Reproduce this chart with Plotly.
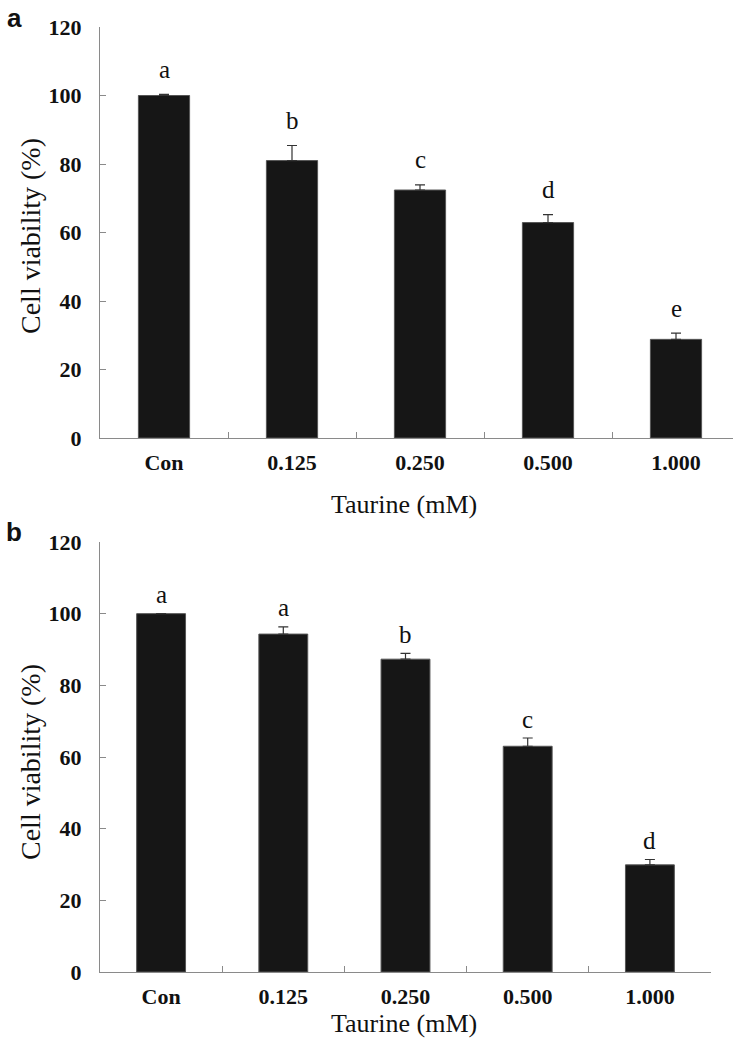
import plotly.graph_objects as go

categories = ["Con", "0.125", "0.250", "0.500", "1.000"]

# Panel a
viability_a = [100.0, 81.0, 72.4, 62.9, 28.8]
error_a = [0.3, 4.4, 1.5, 2.3, 1.8]
letters_a = ["a", "b", "c", "d", "e"]

# Panel b
viability_b = [100.0, 94.3, 87.3, 63.0, 29.9]
error_b = [0.0, 2.0, 1.6, 2.3, 1.5]
letters_b = ["a", "a", "b", "c", "d"]

x_title = "Taurine (mM)"
y_title = "Cell viability (%)"
y_ticks = [0, 20, 40, 60, 80, 100, 120]

W, H = 733, 1044
SERIF = "Liberation Serif, Times New Roman, serif"
SANS = "Liberation Sans, Arial, sans-serif"
BAR = "#161616"
AX = "#8a8a8a"

fig = go.Figure()

for vals, errs, xa, ya in [(viability_a, error_a, "x", "y"), (viability_b, error_b, "x2", "y2")]:
    fig.add_trace(go.Bar(
        x=categories, y=vals, xaxis=xa, yaxis=ya, width=0.4,
        marker=dict(color=BAR, line=dict(color="#555555", width=1)),
        error_y=dict(type="data", symmetric=False, array=errs,
                     arrayminus=[0] * len(errs), color="#333333",
                     thickness=1.2, width=5),
        showlegend=False, hoverinfo="skip",
    ))

def fy(px):
    return 1 - px / H

def fx(px):
    return px / W

top_range_end = -0.5 + (W - 100) / 128.0

xcommon = dict(
    type="category", showline=True, linecolor=AX, linewidth=1.2,
    ticks="inside", tickson="boundaries", ticklen=6, tickcolor=AX,
    tickfont=dict(family=SERIF, size=22, color="#111111", weight="bold"),
    ticklabelstandoff=4, showgrid=False, zeroline=False, automargin=False,
    categoryorder="array", categoryarray=categories,
)
ycommon = dict(
    range=[0, 120], tickvals=y_ticks, showline=True, linecolor=AX, linewidth=1.2,
    ticks="inside", ticklen=6, tickcolor=AX,
    tickfont=dict(family=SERIF, size=22, color="#111111", weight="bold"),
    ticklabelstandoff=13, showgrid=False, zeroline=False, automargin=False,
)

fig.update_layout(
    width=W, height=H, margin=dict(l=0, r=0, t=0, b=0, autoexpand=False),
    paper_bgcolor="white", plot_bgcolor="white",
    bargap=0.6,
    xaxis=dict(xcommon, domain=[fx(100), 1.0], range=[-0.5, top_range_end], anchor="y"),
    yaxis=dict(ycommon, domain=[fy(438), fy(27)], anchor="x"),
    xaxis2=dict(xcommon, domain=[fx(100), fx(711)], range=[-0.5, 4.5], anchor="y2"),
    yaxis2=dict(ycommon, domain=[fy(972), fy(542)], anchor="x2"),
)

annotations = []
for vals, errs, letters, xr, yr, shift in [
    (viability_a, error_a, letters_a, "x", "y", 25),
    (viability_b, error_b, letters_b, "x2", "y2", 19),
]:
    for i, (v, e, l) in enumerate(zip(vals, errs, letters)):
        annotations.append(dict(
            x=i, y=v + e, xref=xr, yref=yr, text=l, showarrow=False,
            yanchor="middle", yshift=shift,
            font=dict(family=SERIF, size=25, color="#111111"),
        ))

annotations += [
    dict(x=fx(404), y=fy(504), xref="paper", yref="paper", text=x_title, showarrow=False,
         xanchor="center", yanchor="middle", font=dict(family=SERIF, size=26, color="#111111")),
    dict(x=fx(404), y=fy(1023), xref="paper", yref="paper", text=x_title, showarrow=False,
         xanchor="center", yanchor="middle", font=dict(family=SERIF, size=26, color="#111111")),
    dict(x=fx(30), y=fy(236), xref="paper", yref="paper", text=y_title, showarrow=False,
         textangle=-90, xanchor="center", yanchor="middle",
         font=dict(family=SERIF, size=28, color="#111111")),
    dict(x=fx(30), y=fy(762), xref="paper", yref="paper", text=y_title, showarrow=False,
         textangle=-90, xanchor="center", yanchor="middle",
         font=dict(family=SERIF, size=28, color="#111111")),
    dict(x=fx(14), y=fy(18), xref="paper", yref="paper", text="<b>a</b>", showarrow=False,
         xanchor="center", yanchor="middle",
         font=dict(family=SANS, size=26, color="#111111")),
    dict(x=fx(14), y=fy(532), xref="paper", yref="paper", text="<b>b</b>", showarrow=False,
         xanchor="center", yanchor="middle",
         font=dict(family=SANS, size=26, color="#111111")),
]
fig.update_layout(annotations=annotations)

fig.write_html("out.html", config={"displayModeBar": False},
               post_script="document.body.style.margin='0';")
